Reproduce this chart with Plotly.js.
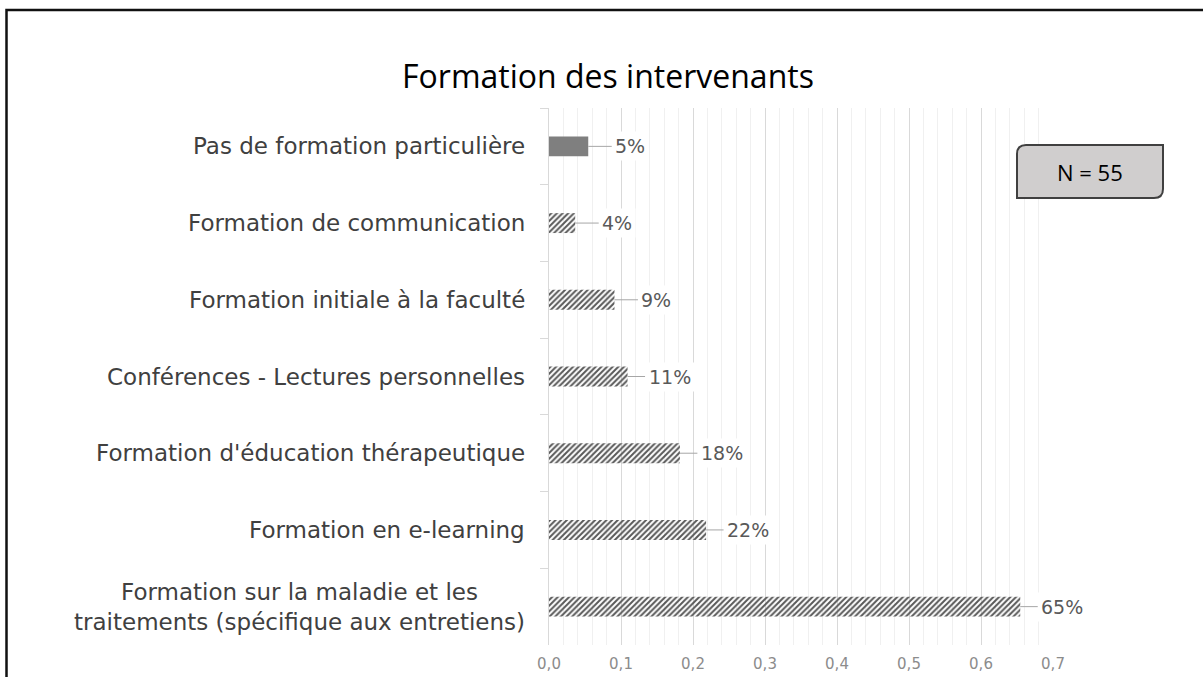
<!DOCTYPE html>
<html>
<head>
<meta charset="utf-8">
<script src="https://cdn.plot.ly/plotly-3.0.1.min.js"></script>
<style>
  html, body { margin: 0; padding: 0; background: #fff; overflow: hidden; }
  #chart { width: 1203px; height: 677px; }
</style>
</head>
<body>
<div id="chart"></div>
<script>
// ---- data ----
const categories = [
  "Pas de formation particulière",
  "Formation de communication",
  "Formation initiale à la faculté",
  "Conférences - Lectures personnelles",
  "Formation d'éducation thérapeutique",
  "Formation en e-learning",
  "Formation sur la maladie et les<br>traitements (spécifique aux entretiens)"
];
const values = [0.0545, 0.0364, 0.0909, 0.1091, 0.1818, 0.2182, 0.6545];
const valueLabels = ["5%", "4%", "9%", "11%", "18%", "22%", "65%"];
const xTickVals = [0, 0.1, 0.2, 0.3, 0.4, 0.5, 0.6, 0.7];
const sampleNote = "N = 55";
const chartTitle = "Formation des intervenants";

// ---- styles ----
const solidColor = "#7f7f7f";
const hatchColor = "#595959";
const barColors = categories.map((c, i) => i === 0 ? solidColor : hatchColor);
const barShapes = categories.map((c, i) => i === 0 ? "" : "/");
const fgColors = categories.map((c, i) => i === 0 ? solidColor : hatchColor);
const bgColors = categories.map((c, i) => i === 0 ? solidColor : "#ffffff");
const labelFont = "'DejaVu Sans', Lato, sans-serif";

const trace = {
  type: "bar",
  orientation: "h",
  x: values,
  y: categories,
  marker: {
    color: barColors,
    line: { width: 0 },
    pattern: { shape: barShapes, fgcolor: fgColors, bgcolor: bgColors, fillmode: "replace", size: 4, solidity: 0.5 }
  },
  hoverinfo: "none"
};

// plot area in pixels (for the overlay box / border)
const L = 549, R = 1053, T = 108, B = 645;
const px2x = p => (p - L) / (R - L);
const py2y = p => (B - p) / (B - T);

const annotations = [];
// category labels (centered multi-line)
categories.forEach(c => {
  annotations.push({
    xref: "paper", yref: "y", x: 0, y: c, xshift: -22,
    xanchor: "right", yanchor: "middle", align: "center",
    text: c, showarrow: false,
    font: { family: labelFont, size: 23, color: "#404040" }
  });
});
// data labels with leader lines
values.forEach((v, i) => {
  annotations.push({
    xref: "x", yref: "y", x: v, y: categories[i],
    text: valueLabels[i], showarrow: true, arrowhead: 0, arrowwidth: 1,
    arrowcolor: "#a6a6a6", ax: 42, ay: 0, standoff: 0, startstandoff: 0,
    bgcolor: "#ffffff", borderpad: 3,
    font: { family: labelFont, size: 19, color: "#595959" }
  });
});
// N = 55 note
annotations.push({
  xref: "paper", yref: "paper", x: px2x(1090), y: py2y(172),
  xanchor: "center", yanchor: "middle", text: sampleNote, showarrow: false,
  font: { family: "'Open Sans', 'Noto Sans', sans-serif", size: 22, color: "#000000" }
});

// rounded-diagonal box path
const bx0 = 1017, bx1 = 1163, by0 = 145, by1 = 198, rr = 9;
const pth = [
  `M ${px2x(bx0)},${py2y(by0 + rr)}`,
  `Q ${px2x(bx0)},${py2y(by0)} ${px2x(bx0 + rr)},${py2y(by0)}`,
  `L ${px2x(bx1)},${py2y(by0)}`,
  `L ${px2x(bx1)},${py2y(by1 - rr)}`,
  `Q ${px2x(bx1)},${py2y(by1)} ${px2x(bx1 - rr)},${py2y(by1)}`,
  `L ${px2x(bx0)},${py2y(by1)}`,
  `Z`
].join(" ");

const shapes = [
  {
    type: "path", xref: "paper", yref: "paper", path: pth,
    fillcolor: "#d0cece", line: { color: "#404040", width: 2 }, layer: "above"
  },
  {
    type: "rect", xref: "paper", yref: "paper",
    x0: px2x(6.5), x1: px2x(1230), y0: py2y(10), y1: py2y(700),
    line: { color: "#111111", width: 2.5 }, fillcolor: "rgba(0,0,0,0)", layer: "above"
  }
];

const layout = {
  width: 1203, height: 677,
  margin: { l: L, r: 1203 - R, t: T, b: 677 - B, pad: 0 },
  paper_bgcolor: "#ffffff", plot_bgcolor: "#ffffff",
  separators: ", ",
  showlegend: false,
  bargap: 0.74,
  title: {
    text: chartTitle,
    x: 608 / 1203, xref: "container", xanchor: "center",
    y: 1 - 77 / 677, yref: "container", yanchor: "middle",
    font: { family: "'Open Sans', 'Noto Sans', sans-serif", size: 32, color: "#000000" }
  },
  xaxis: {
    range: [0, 0.7], tickvals: xTickVals, tickformat: ".1f",
    showgrid: true, gridcolor: "#d9d9d9", gridwidth: 1,
    minor: { dtick: 0.02, showgrid: true, gridcolor: "#f0f0f0", gridwidth: 1 },
    zeroline: false, showline: false, ticks: "", ticklabelstandoff: 8,
    tickfont: { family: labelFont, size: 15, color: "#8c8c8c" },
    fixedrange: true
  },
  yaxis: {
    type: "category", autorange: "reversed",
    showticklabels: false, showgrid: false, zeroline: false,
    showline: true, linecolor: "#d9d9d9", linewidth: 1,
    ticks: "outside", tickson: "boundaries", ticklen: 8, tickcolor: "#d9d9d9",
    fixedrange: true
  },
  annotations: annotations,
  shapes: shapes
};

Plotly.newPlot("chart", [trace], layout, { displayModeBar: false, staticPlot: true });
</script>
</body>
</html>
